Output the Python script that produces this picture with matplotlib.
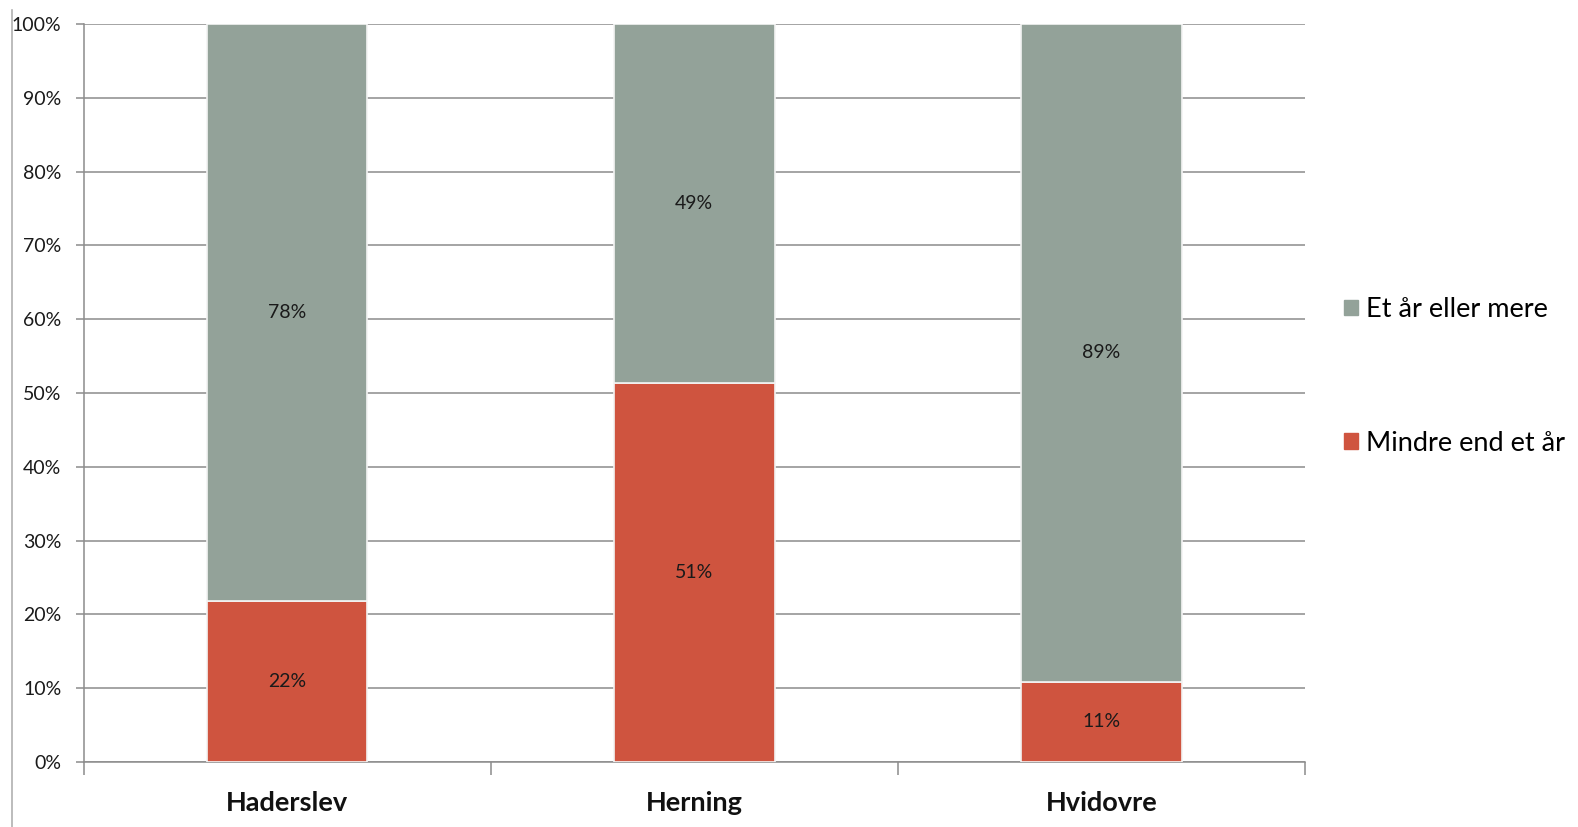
import matplotlib
matplotlib.use("Agg")
import matplotlib.pyplot as plt
from matplotlib.lines import Line2D
from matplotlib.patches import Patch

plt.rcParams['font.family'] = ['Lato', 'DejaVu Sans']

# Share of each group, in percent
towns = ["Haderslev", "Herning", "Hvidovre"]
under_one_year = [21.8, 51.4, 10.9]
one_year_or_more = [78.2, 48.6, 89.1]
series_names = ["Mindre end et år", "Et år eller mere"]
yticks = [0, 10, 20, 30, 40, 50, 60, 70, 80, 90, 100]

red = "#CF543F"
grey = "#93A299"

fig = plt.figure(figsize=(15.78, 8.27), dpi=100)
ax = fig.add_axes([83.5 / 1578, 1 - 762 / 827, (1305 - 83.5) / 1578, (762 - 24) / 827])

x = list(range(len(towns)))
width = 0.395
ax.bar(x, under_one_year, width, color=red, edgecolor="#f4f4f4", linewidth=1.2, zorder=3)
ax.bar(x, one_year_or_more, width, bottom=under_one_year, color=grey,
       edgecolor="#f4f4f4", linewidth=1.2, zorder=3)

for xi, lo, hi in zip(x, under_one_year, one_year_or_more):
    ax.text(xi, lo / 2, f"{lo:.0f}%", ha="center", va="center", fontsize=14, color="#1a1a1a", zorder=4)
    ax.text(xi, lo + hi / 2, f"{hi:.0f}%", ha="center", va="center", fontsize=14, color="#1a1a1a", zorder=4)

ax.set_xlim(-0.5, 2.5)
ax.set_ylim(0, 100)
ax.set_yticks(yticks)
ax.set_yticklabels([f"{t}%" for t in yticks], fontsize=14, color="#1a1a1a")
ax.yaxis.grid(True, color="#8c8c8c", linewidth=1.1, zorder=0)
ax.tick_params(axis="y", length=6, width=1.1, color="#8c8c8c", pad=10)

# category labels sit between boundary ticks
ax.set_xticks([-0.5, 0.5, 1.5, 2.5])
ax.set_xticklabels([])
ax.tick_params(axis="x", length=9, width=1.1, color="#8c8c8c")
for xi, name in zip(x, towns):
    ax.text(xi, -3.9, name, ha="center", va="top", fontsize=19.5, fontweight="bold", color="#111111")

for side in ["top", "right"]:
    ax.spines[side].set_visible(False)
ax.spines["left"].set_color("#8c8c8c")
ax.spines["bottom"].set_color("#8c8c8c")
ax.spines["left"].set_linewidth(1.1)
ax.spines["bottom"].set_linewidth(1.1)

# outer chart border on the left
fig.add_artist(Line2D([12 / 1578, 12 / 1578], [0, 1 - 10 / 827], color="#b0b0b0", linewidth=1.2))

handles = [Patch(color=grey), Patch(color=red)]
leg = fig.legend(handles, [series_names[1], series_names[0]], loc="upper left",
                 bbox_to_anchor=(1320 / 1578, 1 - 273 / 827), frameon=False,
                 fontsize=19.5, handlelength=0.5, handleheight=0.5, handletextpad=0.3,
                 labelspacing=4.0)

fig.savefig("out.png", dpi=100)
